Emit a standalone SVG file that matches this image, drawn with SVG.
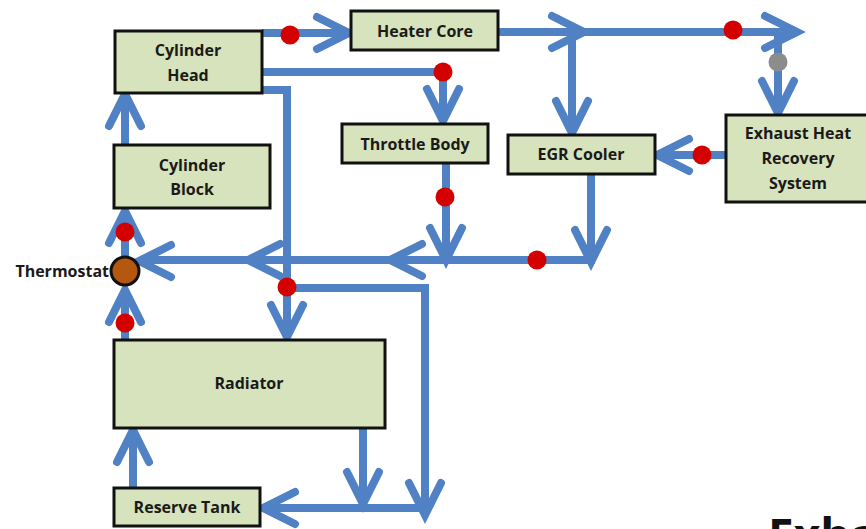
<svg xmlns="http://www.w3.org/2000/svg" xmlns:xlink="http://www.w3.org/1999/xlink" width="866" height="529" viewBox="0 0 866 529">
<style>
.box{fill:#d6e3bc;stroke:#111;stroke-width:3}
.lbl{font-family:"Open Sans","Liberation Sans",sans-serif;font-weight:bold;font-size:16px;fill:#1a1a1a;text-anchor:middle}
.pipe{fill:none;stroke:#4f81c4;stroke-width:8;stroke-linejoin:miter}
.chev{fill:none;stroke:#4f81c4;stroke-width:8;stroke-linecap:round;stroke-linejoin:miter}
.red{fill:#d40000}
.grey{fill:#8c8c8c}
</style>
<defs>
<path id="ch" class="chev" d="M-32,-16 L0,0 L-32,16"/>
</defs>
<rect width="866" height="529" fill="#fff"/>
<g id="connectors">
<path class="pipe" d="M262,33 H348"/>
<use xlink:href="#ch" transform="translate(349,33)"/>
<path class="pipe" d="M498,32 H795"/>
<use xlink:href="#ch" transform="translate(584,32)"/>
<use xlink:href="#ch" transform="translate(797,32)"/>
<path class="pipe" d="M572,32 V131"/>
<use xlink:href="#ch" transform="translate(572,133) rotate(90)"/>
<path class="pipe" d="M778,32 V111"/>
<use xlink:href="#ch" transform="translate(778,113) rotate(90)"/>
<path class="pipe" d="M262,72 H443 V119"/>
<use xlink:href="#ch" transform="translate(443,121) rotate(90)"/>
<path class="pipe" d="M725,155 H659"/>
<use xlink:href="#ch" transform="translate(657,155) rotate(180)"/>
<path class="pipe" d="M446,163 V258"/>
<use xlink:href="#ch" transform="translate(446,260) rotate(90)"/>
<path class="pipe" d="M591,174 V260 H141"/>
<use xlink:href="#ch" transform="translate(591,262) rotate(90)"/>
<use xlink:href="#ch" transform="translate(390,260) rotate(180)"/>
<use xlink:href="#ch" transform="translate(248,260) rotate(180)"/>
<use xlink:href="#ch" transform="translate(139,261) rotate(180)"/>
<path class="pipe" d="M262,90 H287 V335"/>
<use xlink:href="#ch" transform="translate(287,337) rotate(90)"/>
<path class="pipe" d="M287,288 H425 V513"/>
<use xlink:href="#ch" transform="translate(425,515) rotate(90)"/>
<path class="pipe" d="M363,428 V502"/>
<use xlink:href="#ch" transform="translate(363,504) rotate(90)"/>
<path class="pipe" d="M425,508 H265"/>
<use xlink:href="#ch" transform="translate(263,508) rotate(180)"/>
<path class="pipe" d="M133,488 V432"/>
<use xlink:href="#ch" transform="translate(133,430) rotate(-90)"/>
<path class="pipe" d="M125,340 V292"/>
<use xlink:href="#ch" transform="translate(125,290) rotate(-90)"/>
<path class="pipe" d="M125,256 V213"/>
<use xlink:href="#ch" transform="translate(125,211) rotate(-90)"/>
<path class="pipe" d="M125,145 V96"/>
<use xlink:href="#ch" transform="translate(125,94) rotate(-90)"/>
<circle class="red" cx="290" cy="35" r="9.5"/>
<circle class="red" cx="733" cy="30" r="9.5"/>
<circle class="grey" cx="778" cy="62" r="9.5"/>
<circle class="red" cx="443" cy="72" r="9.5"/>
<circle class="red" cx="702" cy="155" r="9.5"/>
<circle class="red" cx="445" cy="197" r="9.5"/>
<circle class="red" cx="537" cy="260" r="9.5"/>
<circle class="red" cx="287" cy="287" r="9.5"/>
<circle class="red" cx="125" cy="232" r="9.5"/>
<circle class="red" cx="125" cy="323" r="9.5"/>
</g>
<g id="cylinder-head"><rect class="box" x="115" y="31" width="147" height="62"/><text class="lbl" x="188" y="56">Cylinder</text><text class="lbl" x="188" y="81">Head</text></g>
<g id="heater-core"><rect class="box" x="351" y="11" width="147" height="39"/><text class="lbl" x="425" y="37">Heater Core</text></g>
<g id="cylinder-block"><rect class="box" x="114" y="145" width="156" height="63"/><text class="lbl" x="192" y="171">Cylinder</text><text class="lbl" x="192" y="195">Block</text></g>
<g id="throttle-body"><rect class="box" x="342" y="124" width="146" height="39"/><text class="lbl" x="415" y="150">Throttle Body</text></g>
<g id="egr-cooler"><rect class="box" x="508" y="135" width="147" height="39"/><text class="lbl" x="581" y="160">EGR Cooler</text></g>
<g id="exhaust-heat-recovery"><rect class="box" x="726" y="115" width="145" height="87"/><text class="lbl" x="798" y="139">Exhaust Heat</text><text class="lbl" x="798" y="164">Recovery</text><text class="lbl" x="798" y="189">System</text></g>
<g id="radiator"><rect class="box" x="114" y="340" width="271" height="88"/><text class="lbl" x="249" y="389">Radiator</text></g>
<g id="reserve-tank"><rect class="box" x="114" y="488" width="146" height="38"/><text class="lbl" x="187" y="513">Reserve Tank</text></g>
<g id="thermostat"><circle cx="125" cy="271" r="14" fill="#b4570f" stroke="#111" stroke-width="3"/><text class="lbl" x="109" y="277" style="text-anchor:end;font-size:16px">Thermostat</text></g>
<text x="768" y="552" style="font-family:'Open Sans','Liberation Sans',sans-serif;font-weight:bold;font-size:46px;fill:#111">Exha</text>
</svg>
